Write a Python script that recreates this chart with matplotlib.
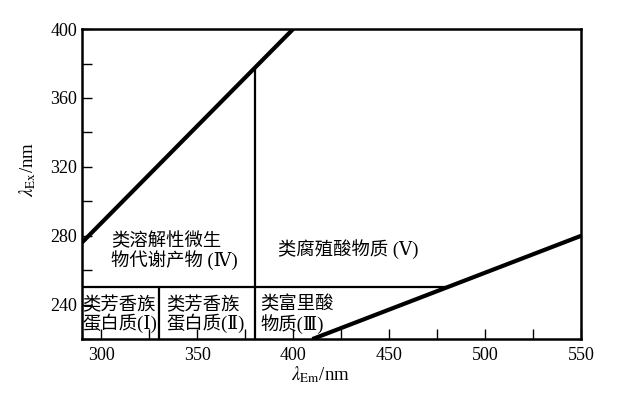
import matplotlib
matplotlib.use('Agg')
import matplotlib.pyplot as plt
from matplotlib.ticker import MultipleLocator

plt.rcParams['font.family'] = ['Liberation Serif', 'DejaVu Serif', 'Noto Sans CJK SC']
plt.rcParams['mathtext.fontset'] = 'stix'

# ── 区域边界（nm） ──
upper_x, upper_y = [290, 400], [276, 400]        # 上斜线
lower_x, lower_y = [410, 550], [220, 280]        # 下斜线
v380_x, v380_y = [380, 380], [220, 377.5]        # 竖线 380 nm
v330_x, v330_y = [330, 330], [220, 250]          # 竖线 330 nm
h250_x, h250_y = [290, 480], [250, 250]          # 横线 250 nm

# ── 区域标签 ──
region_text = ['类芳香族\n蛋白质(Ⅰ)', '类芳香族\n蛋白质(Ⅱ)', '类富里酸\n物质(Ⅲ)',
               '类溶解性微生\n物代谢产物 (Ⅳ)', '类腐殖酸物质 (Ⅴ)']
region_x = [290.3, 334, 383, 305, 392]
region_y = [234, 234, 234, 271, 272]

fig = plt.figure(figsize=(6.25, 3.98), dpi=100)
ax = fig.add_axes([0.131, 0.148, 0.799, 0.779])

for xs, ys, lw in [(upper_x, upper_y, 3), (lower_x, lower_y, 3),
                   (v380_x, v380_y, 1.6), (v330_x, v330_y, 1.6), (h250_x, h250_y, 1.6)]:
    ax.plot(xs, ys, color='black', lw=lw, solid_capstyle='butt')

for t, x, y in zip(region_text, region_x, region_y):
    ax.text(x, y, t, ha='left', va='center', fontsize=13.2, linespacing=1.0)

ax.set_xlim(290, 550)
ax.set_ylim(220, 400)
ax.xaxis.set_major_locator(MultipleLocator(50))
ax.xaxis.set_minor_locator(MultipleLocator(25))
ax.yaxis.set_major_locator(MultipleLocator(40))
ax.yaxis.set_minor_locator(MultipleLocator(20))
ax.tick_params(which='both', direction='in', length=7, width=1, labelsize=13)
ax.tick_params(axis='x', pad=6)
for s in ax.spines.values():
    s.set_linewidth(1.8)

ax.set_xlabel(r'$\lambda_{\rm Em}$/nm', fontsize=13.5)
ax.set_ylabel(r'$\lambda_{\rm Ex}$/nm', fontsize=13.5)
ax.xaxis.label.set_va('center')
ax.yaxis.label.set_va('center')
ax.xaxis.set_label_coords(0.477, -0.115)
ax.yaxis.set_label_coords(-0.108, 0.548)

fig.savefig('out.png', dpi=100, facecolor='white')
